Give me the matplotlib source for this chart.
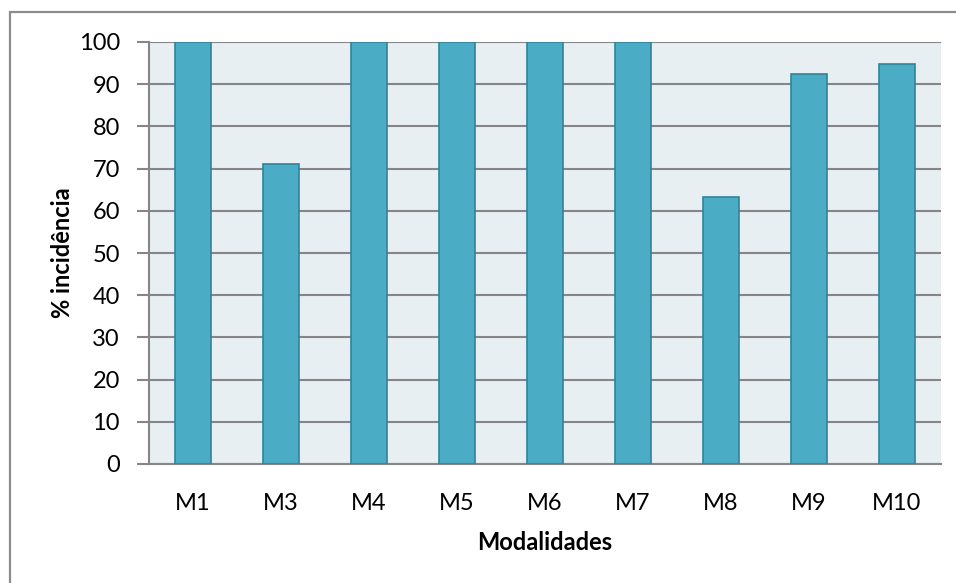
import matplotlib
matplotlib.use("Agg")
import matplotlib.pyplot as plt
from matplotlib.patches import Rectangle

# Percentage incidence per modality
modalidades = ["M1", "M3", "M4", "M5", "M6", "M7", "M8", "M9", "M10"]
incidencia = [100, 71.2, 100, 100, 100, 100, 63.3, 92.3, 94.9]
y_ticks = [0, 10, 20, 30, 40, 50, 60, 70, 80, 90, 100]

W, H = 956, 583
plt.rcParams["font.family"] = ["Lato", "DejaVu Sans"]

fig = plt.figure(figsize=(W / 100, H / 100), dpi=100)
fig.patch.set_facecolor("white")

# outer chart frame (runs off the right and bottom edges)
fig.add_artist(Rectangle((10 / W, -0.05), 1.0, 1.05 - 12 / H,
                         transform=fig.transFigure, fill=False,
                         edgecolor="#8c8c8c", linewidth=1.6))

left, right, top, bottom = 149, 941, 42, 464
ax = fig.add_axes([left / W, 1 - bottom / H, (right - left) / W, (bottom - top) / H])
ax.set_facecolor("#e8eff3")

x = range(len(modalidades))
ax.bar(x, incidencia, width=0.4, color="#4bacc6", edgecolor="#31839a",
       linewidth=1.2, zorder=3)

ax.set_xlim(-0.5, len(modalidades) - 0.5)
ax.set_ylim(0, 100)
ax.set_yticks(y_ticks)
ax.set_yticklabels([str(v) for v in y_ticks])
ax.set_xticks(list(x))
ax.set_xticklabels(modalidades)

ax.grid(axis="y", color="#868686", linewidth=1.5, zorder=1)
ax.set_axisbelow(True)
for s in ("top", "right"):
    ax.spines[s].set_visible(False)
for s in ("left", "bottom"):
    ax.spines[s].set_color("#868686")
    ax.spines[s].set_linewidth(1.5)

ax.tick_params(axis="y", length=9, width=1.5, color="#868686",
               labelsize=17, pad=12, labelcolor="black")
ax.tick_params(axis="x", length=0, labelsize=17, pad=21, labelcolor="black")

ax.set_ylabel("% incidência", fontsize=17, fontweight="bold", labelpad=3)
ax.set_xlabel("Modalidades", fontsize=17, fontweight="bold", labelpad=12)

fig.savefig("out.png", dpi=100)
